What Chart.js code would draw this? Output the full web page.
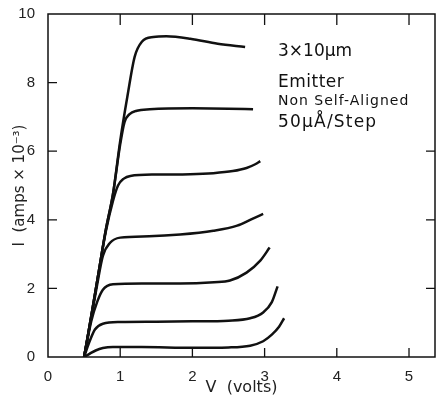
<!DOCTYPE html>
<html>
<head>
<meta charset="utf-8">
<script src="https://cdn.jsdelivr.net/npm/chart.js@4.4.1/dist/chart.umd.min.js"></script>
<style>
  html, body { margin: 0; padding: 0; background: #fff; }
  #wrap { width: 437px; height: 397px; position: relative; }
</style>
</head>
<body>
<div id="wrap"><canvas id="canvas" width="437" height="397"></canvas></div>
<script>
// I-V curves, one per base current step (V in volts, I in mA)
let curve1 = [[0.5,0],[0.58,0.1],[0.66,0.19],[0.76,0.26],[0.9,0.29],[1.3,0.29],[2.0,0.27],[2.5,0.28],[2.8,0.33],[2.98,0.46],[3.1,0.65],[3.2,0.88],[3.27,1.13]];
let curve2 = [[0.5,0],[0.57,0.42],[0.65,0.8],[0.76,0.97],[1.0,1.02],[1.5,1.03],[2.0,1.04],[2.5,1.06],[2.8,1.13],[2.98,1.3],[3.1,1.6],[3.18,2.06]];
let curve3 = [[0.5,0],[0.6,1.05],[0.68,1.6],[0.76,1.96],[0.9,2.12],[1.3,2.14],[1.83,2.14],[2.3,2.18],[2.52,2.23],[2.75,2.46],[2.94,2.81],[3.07,3.19]];
let curve4 = [[0.5,0],[0.6,1.15],[0.68,2.1],[0.76,2.95],[0.86,3.33],[1.0,3.48],[1.4,3.52],[1.83,3.57],[2.29,3.68],[2.62,3.83],[2.83,4.03],[2.98,4.17]];
let curve5 = [[0.5,0],[0.6,1.2],[0.7,2.45],[0.8,3.65],[0.9,4.55],[0.97,5.0],[1.05,5.2],[1.14,5.28],[1.5,5.32],[1.97,5.33],[2.29,5.36],[2.56,5.42],[2.75,5.51],[2.87,5.62],[2.94,5.71]];
let curve6 = [[0.5,0],[0.6,1.2],[0.7,2.45],[0.8,3.7],[0.9,4.75],[1.0,6.2],[1.06,6.85],[1.13,7.08],[1.23,7.18],[1.41,7.22],[2.0,7.25],[2.5,7.24],[2.84,7.22]];
let curve7 = [[0.5,0],[0.6,1.2],[0.7,2.45],[0.8,3.7],[0.9,4.75],[1.0,6.3],[1.1,7.6],[1.2,8.75],[1.3,9.19],[1.46,9.33],[1.64,9.35],[1.97,9.28],[2.35,9.13],[2.73,9.04]];

let xTicks = [0, 1, 2, 3, 4, 5];
let yTicks = [0, 2, 4, 6, 8, 10];
let noteLines = ['3\u00d710\u03bcm', 'Emitter', 'Non Self-Aligned', '50\u03bc\u00c5/Step'];

let curves = [curve1, curve2, curve3, curve4, curve5, curve6, curve7];

let datasets = curves.map(c => ({
  data: c.map(p => ({x: p[0], y: p[1]})),
  borderColor: '#111',
  borderWidth: 2.5,
  pointRadius: 0,
  fill: false,
  cubicInterpolationMode: 'monotone'
}));

// frame plus inward tick marks on all four sides
let framePlugin = {
  id: 'frame',
  afterDraw(chart) {
    let ctx = chart.ctx;
    let a = chart.chartArea;
    let xs = chart.scales.x, ys = chart.scales.y;
    ctx.save();
    ctx.strokeStyle = '#111';
    ctx.lineWidth = 1.5;
    ctx.strokeRect(a.left, a.top, a.right - a.left, a.bottom - a.top);
    ctx.lineWidth = 1.3;
    ctx.beginPath();
    xTicks.forEach(v => {
      if (v === 0) return;
      let px = xs.getPixelForValue(v);
      ctx.moveTo(px, a.bottom); ctx.lineTo(px, a.bottom - 9);
      ctx.moveTo(px, a.top); ctx.lineTo(px, a.top + 11);
    });
    yTicks.forEach(v => {
      if (v === 0 || v === 10) return;
      let py = ys.getPixelForValue(v);
      ctx.moveTo(a.left, py); ctx.lineTo(a.left + 9, py);
      if (v <= 6) { ctx.moveTo(a.right, py); ctx.lineTo(a.right - 9, py); }
    });
    ctx.stroke();

    // note text in the upper right
    ctx.fillStyle = '#111';
    ctx.textBaseline = 'alphabetic';
    ctx.textAlign = 'left';
    let fonts = ['17px "DejaVu Sans"', '17px "DejaVu Sans"', '14px "DejaVu Sans"', '17px "DejaVu Sans"'];
    let spacing = ['0px', '0.5px', '1px', '1.2px'];
    let baselines = [56, 87, 105, 127];
    noteLines.forEach((t, i) => {
      ctx.font = fonts[i];
      ctx.letterSpacing = spacing[i];
      ctx.fillText(t, 278, baselines[i]);
    });
    ctx.restore();
  }
};

let canvas = document.getElementById('canvas');

new Chart(canvas, {
  type: 'line',
  data: { datasets: datasets },
  options: {
    responsive: false,
    animation: false,
    layout: { padding: { top: 12, right: 2, left: 0, bottom: 0 } },
    plugins: { legend: { display: false }, tooltip: { enabled: false } },
    scales: {
      x: {
        type: 'linear',
        min: 0,
        max: 5.36,
        afterBuildTicks: s => { s.ticks = xTicks.map(v => ({value: v})); },
        afterFit: s => { s.height = 40; },
        grid: { display: false },
        border: { display: false },
        ticks: { padding: 3, color: '#222', font: { family: 'Liberation Sans', size: 15 } },
        title: {
          display: true,
          text: 'V  (volts)',
          color: '#222',
          padding: { top: 0, bottom: 0 },
          font: { family: 'DejaVu Sans', size: 16 }
        }
      },
      y: {
        type: 'linear',
        min: 0,
        max: 10,
        afterBuildTicks: s => { s.ticks = yTicks.map(v => ({value: v})); },
        afterFit: s => { s.width = 48; },
        grid: { display: false },
        border: { display: false },
        ticks: { padding: 5, color: '#222', font: { family: 'Liberation Sans', size: 15 } },
        title: {
          display: true,
          text: 'I  (amps \u00d7 10\u207b\u00b3)',
          color: '#222',
          padding: { top: 11, bottom: 0 },
          font: { family: 'DejaVu Sans', size: 15 }
        }
      }
    }
  },
  plugins: [framePlugin]
});
</script>
</body>
</html>
